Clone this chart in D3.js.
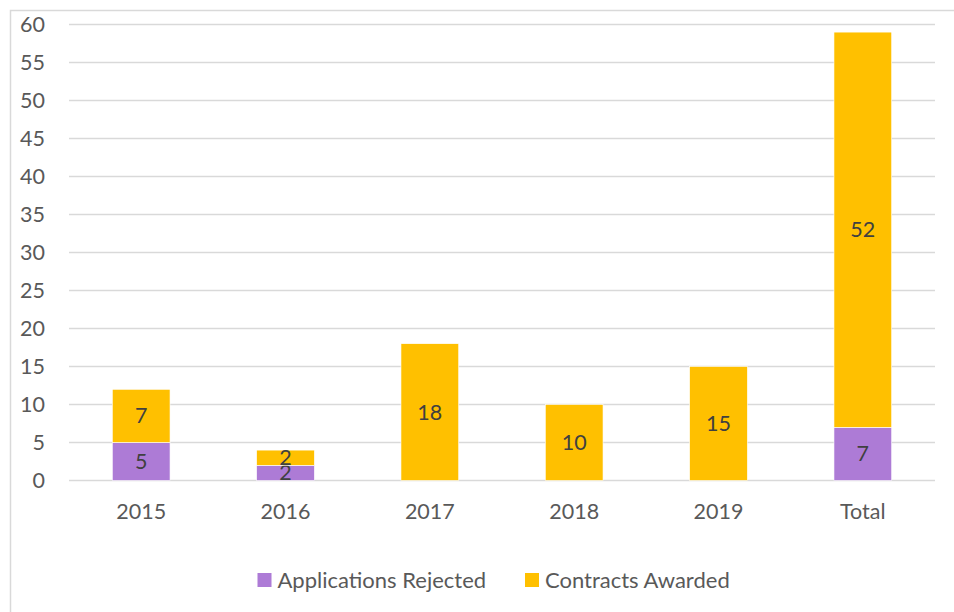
<!DOCTYPE html>
<html>
<head>
<meta charset="utf-8">
<script src="https://cdn.jsdelivr.net/npm/d3@7"></script>
<style>
  body { margin: 0; background: #fff; }
  svg { display: block; font-family: Lato, "Open Sans", sans-serif; }
</style>
</head>
<body>
<div id="chart"></div>
<script>
const categories = ["2015", "2016", "2017", "2018", "2019", "Total"];
const rejected = [5, 2, 0, 0, 0, 7];
const awarded = [7, 2, 18, 10, 15, 52];
const yTicks = [0, 5, 10, 15, 20, 25, 30, 35, 40, 45, 50, 55, 60];
const seriesNames = ["Applications Rejected", "Contracts Awarded"];
const colors = ["#AD7BD6", "#FFC000"];

const width = 954, height = 612;
const margin = {left: 69, right: 19, top: 24.5, bottom: 131.5};
const fs = 21.5;

const svg = d3.select("#chart").append("svg")
  .attr("width", width).attr("height", height);

// outer chart frame (cropped on right/bottom)
svg.append("rect")
  .attr("x", 10.5).attr("y", 10.5)
  .attr("width", width + 20).attr("height", height + 20)
  .attr("fill", "none").attr("stroke", "#d9d9d9").attr("stroke-width", 1.5);

const x = d3.scaleBand()
  .domain(categories)
  .range([margin.left, width - margin.right])
  .paddingInner(0.6).paddingOuter(0.3);

const y = d3.scaleLinear()
  .domain([0, 60])
  .range([height - margin.bottom, margin.top]);

// gridlines
svg.append("g").selectAll("line").data(yTicks).enter().append("line")
  .attr("x1", margin.left).attr("x2", width - margin.right)
  .attr("y1", d => y(d)).attr("y2", d => y(d))
  .attr("stroke", "#d9d9d9").attr("stroke-width", 1.3);

// y labels
svg.append("g").selectAll("text").data(yTicks).enter().append("text")
  .attr("x", 45).attr("y", d => y(d)).attr("dy", "0.35em")
  .attr("text-anchor", "end")
  .attr("font-size", fs).attr("fill", "#595959")
  .text(d => d);

const rows = categories.map((c, i) => ({cat: c, rejected: rejected[i], awarded: awarded[i]}));
const stack = d3.stack().keys(["rejected", "awarded"])(rows);

stack.forEach((layer, li) => {
  const g = svg.append("g");
  g.selectAll("rect").data(layer).enter().append("rect")
    .attr("x", d => x(d.data.cat))
    .attr("width", x.bandwidth())
    .attr("y", d => y(d[1]))
    .attr("height", d => y(d[0]) - y(d[1]))
    .attr("fill", colors[li])
    .attr("stroke", "#fff").attr("stroke-width", 0.6);
  g.selectAll("text").data(layer.filter(d => d[1] - d[0] > 0)).enter().append("text")
    .attr("x", d => x(d.data.cat) + x.bandwidth() / 2)
    .attr("y", d => (y(d[0]) + y(d[1])) / 2)
    .attr("dy", "0.35em")
    .attr("text-anchor", "middle")
    .attr("font-size", fs).attr("fill", "#404040")
    .text(d => d[1] - d[0]);
});

// x labels
svg.append("g").selectAll("text").data(categories).enter().append("text")
  .attr("x", d => x(d) + x.bandwidth() / 2)
  .attr("y", y(0) + 31).attr("dy", "0.35em")
  .attr("text-anchor", "middle")
  .attr("font-size", fs).attr("fill", "#595959")
  .text(d => d);

// legend
const legendX = [257.5, 525];
const legend = svg.append("g").selectAll("g").data(seriesNames).enter().append("g")
  .attr("transform", (d, i) => `translate(${legendX[i]}, 573)`);
legend.append("rect")
  .attr("width", 14).attr("height", 14)
  .attr("fill", (d, i) => colors[i]);
legend.append("text")
  .attr("x", 20).attr("y", 7).attr("dy", "0.35em")
  .attr("font-size", 22).attr("fill", "#595959")
  .text(d => d);
</script>
</body>
</html>
